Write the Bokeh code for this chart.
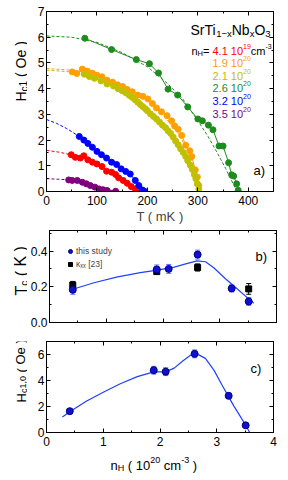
from bokeh.plotting import figure
from bokeh.models import (Range1d, LinearAxis, SingleIntervalTicker, Label, Whisker, TeeHead,
                          ColumnDataSource, PrintfTickFormatter, Legend, LegendItem)
from bokeh.layouts import column, row
from bokeh.embed import file_html
from bokeh.resources import INLINE

FONT = "Liberation Sans"

# ---------------- data: panel a, Hc1(T) ----------------
series_labels = ["4.1", "1.9", "2.1", "2.6", "3.2", "3.5"]
series_exp = ["19", "20", "20", "20", "20", "20"]
series_colors = ["#ff0000", "#ffa000", "#c0c000", "#1e8c1e", "#0000ff", "#800080"]

red_T = [49, 57, 67, 74, 82, 91, 100, 110, 119, 129, 137, 143, 152, 160, 168, 176, 183]
red_H = [1.43, 1.33, 1.30, 1.39, 1.23, 1.14, 1.07, 0.97, 0.79, 0.75, 0.66, 0.53, 0.43, 0.32, 0.19, 0.10, 0.07]
orange_T = [51, 60, 71, 81, 91, 100, 110, 120, 131, 141, 151, 160, 170, 181, 191, 201, 210, 218, 228,
            239, 248, 254, 261, 268, 276, 284, 288, 295, 299, 302]
orange_H = [4.65, 4.59, 4.76, 4.68, 4.60, 4.52, 4.46, 4.33, 4.25, 4.15, 4.08, 3.97, 3.88, 3.75, 3.70,
            3.60, 3.42, 3.25, 3.10, 2.95, 2.75, 2.55, 2.42, 2.18, 1.80, 1.58, 1.36, 0.84, 0.56, 0.23]
yellow_T = [75, 85, 95, 108, 120, 133, 142, 150, 157, 164, 170, 176, 181, 186, 191, 196, 200, 206, 212,
            218, 224, 230, 236, 241, 246, 251, 256, 261, 266, 271, 276, 280, 285, 289, 293, 296, 299, 302]
yellow_H = [4.56, 4.47, 4.40, 4.30, 4.18, 4.10, 4.00, 3.92, 3.84, 3.74, 3.66, 3.56, 3.47, 3.38, 3.30,
            3.22, 3.14, 3.02, 2.92, 2.82, 2.70, 2.58, 2.48, 2.36, 2.26, 2.12, 1.96, 1.82, 1.66, 1.52,
            1.36, 1.20, 1.02, 0.86, 0.66, 0.50, 0.30, 0.10]
green_T = [76, 129, 178, 204, 222, 241, 260, 280, 300, 309, 321, 330, 342, 350, 361, 367, 371, 377, 380]
green_H = [5.96, 5.52, 5.13, 4.97, 4.61, 3.98, 3.75, 3.29, 2.82, 2.75, 2.58, 2.40, 1.77, 1.77, 1.12,
           0.65, 0.60, 0.30, 0.05]
blue_T = [65, 74, 82, 91, 100, 109, 119, 129, 139, 148, 157, 166, 176, 183, 190, 195]
blue_H = [2.14, 2.00, 1.87, 1.72, 1.56, 1.43, 1.30, 1.14, 1.05, 0.88, 0.78, 0.68, 0.43, 0.23, 0.06, 0.0]
purple_T = [44, 51, 61, 71, 79, 87, 96, 104, 112, 120, 137]
purple_H = [0.45, 0.43, 0.43, 0.36, 0.30, 0.23, 0.17, 0.10, 0.07, 0.04, 0.01]

# dashed fit curves
red_fit_T = [0, 25, 50, 100, 140, 170, 185]
red_fit_H = [1.60, 1.53, 1.42, 1.05, 0.62, 0.25, 0.0]
orange_fit_T = [0, 50, 100, 150, 200, 230, 260, 280, 295, 303, 305]
orange_fit_H = [4.78, 4.72, 4.50, 4.10, 3.50, 3.00, 2.30, 1.60, 0.85, 0.20, 0.0]
yellow_fit_T = [0, 50, 100, 150, 200, 230, 260, 280, 295, 302]
yellow_fit_H = [4.72, 4.65, 4.40, 3.95, 3.25, 2.70, 2.00, 1.30, 0.60, 0.0]
green_fit_T = [0, 50, 100, 150, 200, 240, 270, 300, 320, 340, 355, 370, 378]
green_fit_H = [6.05, 6.00, 5.80, 5.40, 4.85, 4.20, 3.60, 2.75, 2.15, 1.45, 0.90, 0.30, 0.0]
blue_fit_T = [0, 20, 40, 65, 100, 140, 170, 195]
blue_fit_H = [2.80, 2.65, 2.45, 2.14, 1.58, 1.00, 0.55, 0.0]
purple_fit_T = [0, 40, 80, 110, 130, 140]
purple_fit_H = [0.50, 0.46, 0.32, 0.14, 0.04, 0.0]

# ---------------- data: panel b, Tc(nH) ----------------
nH_study = [0.41, 1.89, 2.10, 2.61, 3.21, 3.51]
Tc_study = [0.183, 0.297, 0.300, 0.380, 0.191, 0.118]
Tc_study_err = [0.025, 0.025, 0.025, 0.025, 0.020, 0.022]
nH_kxx = [0.41, 1.89, 2.61, 3.51]
Tc_kxx = [0.210, 0.285, 0.308, 0.188]
Tc_kxx_err = [0.020, 0.015, 0.020, 0.030]
Tc_fit_n = [0.41, 0.8, 1.2, 1.6, 1.9, 2.2, 2.4, 2.6, 2.75, 2.9, 3.1, 3.3, 3.5, 3.6]
Tc_fit = [0.186, 0.224, 0.255, 0.279, 0.293, 0.310, 0.328, 0.345, 0.340, 0.305, 0.245, 0.190, 0.135, 0.108]

# ---------------- data: panel c, Hc1,0(nH) ----------------
Hc10 = [1.64, 4.79, 4.68, 6.05, 2.82, 0.55]
Hc10_err = [0.10, 0.30, 0.30, 0.30, 0.20, 0.10]
Hc10_fit_n = [0.28, 0.41, 0.7, 1.0, 1.3, 1.6, 1.89, 2.1, 2.25, 2.4, 2.55, 2.65, 2.8, 2.95, 3.1, 3.2,
              3.3, 3.42, 3.51, 3.58]
Hc10_fit = [1.20, 1.60, 2.40, 3.10, 3.75, 4.30, 4.66, 4.66, 4.95, 5.50, 5.98, 6.05, 5.70, 4.80, 3.60,
            2.82, 2.05, 1.20, 0.56, 0.0]

# ---------------- helpers ----------------
WID = {'0': .556, '1': .556, '2': .556, '3': .556, '4': .556, '5': .556, '6': .556, '7': .556,
       '8': .556, '9': .556, '.': .278, ' ': .278, '(': .333, ')': .333, '=': .584, '-': .333,
       '\u2212': .584, 'S': .667, 'r': .333, 'T': .611, 'i': .222, 'N': .722, 'b': .556, 'O': .778,
       'x': .5, 'n': .556, 'H': .722, 'c': .5, 'm': .833, 'K': .667, 'e': .556, ',': .278}


def tw(s, size):
    return sum(WID.get(ch, 0.556) for ch in s) * size


def rich(p, pieces, x, y, angle=0.0):
    pos = 0.0
    for text, size, shift, col in pieces:
        lead = len(text) - len(text.lstrip(" "))
        pos += tw(" " * lead, size)
        core = text.strip(" ")
        if angle == 0:
            lx, ly = x + pos, y + shift
        else:
            lx, ly = x - shift, y + pos
        p.add_layout(Label(x=lx, y=ly, x_units="screen", y_units="screen", text=core,
                           text_font_size=f"{size}px", text_baseline="alphabetic", text_align="left",
                           angle=angle, text_color=col, text_font=FONT))
        pos += tw(text.lstrip(" "), size)


def hide_labels(ax):
    ax.major_label_text_color = None
    ax.major_label_text_font_size = "1px"
    ax.major_label_standoff = 0


def style(p, xt, yt, xlabels=True, yfmt=None):
    p.below[0].ticker = xt
    p.left[0].ticker = yt
    if yfmt:
        p.left[0].formatter = yfmt
    p.add_layout(LinearAxis(ticker=xt), "above")
    p.add_layout(LinearAxis(ticker=yt), "right")
    for ax in p.axis:
        ax.major_tick_in = 4
        ax.major_tick_out = 0
        ax.minor_tick_in = 2
        ax.minor_tick_out = 0
        ax.axis_line_color = "black"
        ax.major_tick_line_color = "black"
        ax.minor_tick_line_color = "black"
        ax.major_label_text_font = FONT
        ax.major_label_text_font_size = "12px"
        ax.major_label_text_color = "black"
        ax.major_label_standoff = 4
    p.left[0].major_label_standoff = 2
    hide_labels(p.above[0])
    hide_labels(p.right[0])
    if not xlabels:
        hide_labels(p.below[0])
    p.xgrid.visible = False
    p.ygrid.visible = False
    p.outline_line_color = "black"


SW = 27  # width of the y-label strips
FL = 46 - SW  # left border of the plots, so that each frame starts at x = 46


def fig(fh, top, bottom, x_end, y_end):
    p = figure(frame_width=227, frame_height=fh, min_border_left=FL, min_border_right=7,
               min_border_top=top, min_border_bottom=bottom, output_backend="svg",
               toolbar_location=None, x_range=Range1d(0, x_end), y_range=Range1d(0, y_end))
    p.background_fill_color = "white"
    p.border_fill_color = "white"
    return p


def strip(w, h):
    s = figure(width=w, height=h, min_border=0, output_backend="svg", toolbar_location=None,
               x_axis_location=None, y_axis_location=None,
               x_range=Range1d(0, w), y_range=Range1d(0, h))
    s.xgrid.visible = False
    s.ygrid.visible = False
    s.outline_line_color = None
    s.background_fill_color = "white"
    s.border_fill_color = "white"
    return s


# ---------------- panel a ----------------
HA = 11 + 180 + 36
pa = fig(180, 11, 36, 450, 7)
style(pa, SingleIntervalTicker(interval=100, num_minor_ticks=2),
      SingleIntervalTicker(interval=1, num_minor_ticks=2))
xa = pa.below[0]
xa.axis_label = "T ( mK )"
xa.axis_label_text_font = FONT
xa.axis_label_text_font_size = "13px"
xa.axis_label_text_font_style = "normal"
xa.axis_label_standoff = 1

pts = [(red_T, red_H), (orange_T, orange_H), (yellow_T, yellow_H), (green_T, green_H),
       (blue_T, blue_H), (purple_T, purple_H)]
fits = [(red_fit_T, red_fit_H), (orange_fit_T, orange_fit_H), (yellow_fit_T, yellow_fit_H),
        (green_fit_T, green_fit_H), (blue_fit_T, blue_fit_H), (purple_fit_T, purple_fit_H)]
for (ft, fhh), col in zip(fits, series_colors):
    pa.line(ft, fhh, line_color=col, line_width=1, line_dash="3 2")
for (t, h), col in zip(pts, series_colors):
    pa.line(t, h, line_color=col, line_width=1)
    pa.scatter(t, h, size=6, fill_color=col, line_color=col)

# frame a: left 46, bottom 191 (page px)
A_L, A_B = 46, 191
rich(pa, [("SrTi", 14, 0, "black"), ("1\u2212x", 9.5, -3.5, "black"), ("Nb", 14, 0, "black"),
          ("x", 9.5, -3.5, "black"), ("O", 14, 0, "black"), ("3", 9.5, -3.5, "black")],
     190 - A_L, A_B - 29.5)
rich(pa, [("n", 11, 0, "black"), ("H", 7.5, -2.5, "black"), ("=", 11, 0, "black")],
     191 - A_L, A_B - 50)
baselines = [50, 62.5, 75, 87.5, 100, 113]
for lab, ex, col, bl in zip(series_labels, series_exp, series_colors, baselines):
    pieces = [(lab + " 10", 11, 0, col), (ex, 7, 4.5, col)]
    if ex == "19":
        pieces += [("cm", 11, 0, "black"), ("-3", 7, 4.5, "black")]
    rich(pa, pieces, 212 - A_L, A_B - bl)
rich(pa, [("a)", 13, 0, "black")], 253 - A_L, A_B - 169.5)

ya = strip(SW, HA)
rich(ya, [("H", 14, 0, "black"), ("c1", 10, -3, "black"), (" ( Oe )", 14, 0, "black")],
     20.5, HA - 137, angle=1.5708)

# ---------------- panel b ----------------
HB = 3 + 92 + 8
pb = fig(92, 3, 8, 4, 0.515)
style(pb, SingleIntervalTicker(interval=1, num_minor_ticks=2),
      SingleIntervalTicker(interval=0.2, num_minor_ticks=2), xlabels=False,
      yfmt=PrintfTickFormatter(format="%.1f"))

src_b1 = ColumnDataSource(dict(x=nH_study, y=Tc_study,
                               lo=[v - e for v, e in zip(Tc_study, Tc_study_err)],
                               hi=[v + e for v, e in zip(Tc_study, Tc_study_err)]))
src_b2 = ColumnDataSource(dict(x=nH_kxx, y=Tc_kxx,
                               lo=[v - e for v, e in zip(Tc_kxx, Tc_kxx_err)],
                               hi=[v + e for v, e in zip(Tc_kxx, Tc_kxx_err)]))
pb.line(Tc_fit_n, Tc_fit, line_color="#2040ff", line_width=1.2)
pb.add_layout(Whisker(source=src_b2, base="x", lower="lo", upper="hi", line_color="black",
                      upper_head=TeeHead(size=5, line_color="black"),
                      lower_head=TeeHead(size=5, line_color="black")))
r_k = pb.scatter("x", "y", source=src_b2, marker="square", size=6, fill_color="black",
                 line_color="black")
pb.add_layout(Whisker(source=src_b1, base="x", lower="lo", upper="hi", line_color="#6070ff",
                      upper_head=TeeHead(size=5, line_color="#6070ff"),
                      lower_head=TeeHead(size=5, line_color="#6070ff")))
r_s = pb.scatter("x", "y", source=src_b1, size=7, fill_color="#1010d0", line_color="#000080")

leg = Legend(items=[LegendItem(label="this study", renderers=[r_s]),
                    LegendItem(label="\u03ba\u2093\u2093 [23]", renderers=[r_k])],
             location=(16, 52), label_text_font=FONT, label_text_font_size="8.5px",
             glyph_width=10, glyph_height=12, label_height=12, label_standoff=1, spacing=1,
             padding=0, margin=0, border_line_color=None, background_fill_alpha=0)
pb.add_layout(leg)

B_L, B_B = 46, 322
rich(pb, [("b)", 13, 0, "black")], 252 - B_L, B_B - 256)

yb = strip(SW, HB)
rich(yb, [("T", 16, 0, "black"), ("c", 10, -3, "black"), (" ( K )", 16, 0, "black")],
     20.5, 330 - 303, angle=1.5708)

# ---------------- panel c ----------------
HC = 11 + 91 + 20
pc = fig(91, 11, 20, 4, 7)
style(pc, SingleIntervalTicker(interval=1, num_minor_ticks=2),
      SingleIntervalTicker(interval=2, num_minor_ticks=2))
src_c = ColumnDataSource(dict(x=nH_study, y=Hc10,
                              lo=[v - e for v, e in zip(Hc10, Hc10_err)],
                              hi=[v + e for v, e in zip(Hc10, Hc10_err)]))
pc.line(Hc10_fit_n, Hc10_fit, line_color="#2040ff", line_width=1.2)
pc.add_layout(Whisker(source=src_c, base="x", lower="lo", upper="hi", line_color="#6070ff",
                      upper_head=TeeHead(size=5, line_color="#6070ff"),
                      lower_head=TeeHead(size=5, line_color="#6070ff")))
pc.scatter("x", "y", source=src_c, size=7, fill_color="#1010d0", line_color="#000080")

C_L, C_B = 46, 432
rich(pc, [("c)", 13, 0, "black")], 250 - C_L, C_B - 367.5)

yc = strip(SW, HC)
rich(yc, [("H", 13, 0, "black"), ("c1,0", 9, -2.5, "black"), (" ( Oe )", 13, 0, "black")],
     20.5, 452 - 422, angle=1.5708)

XH = 22
xc = strip(280, XH)
rich(xc, [("n", 13, 0, "black"), ("H", 9, -3, "black"), (" ( 10", 13, 0, "black"),
          ("20", 9, 5, "black"), (" cm", 13, 0, "black"), ("-3", 9, 5, "black"),
          (" )", 13, 0, "black")],
     110, XH - (464.5 - 452))

layout = column(row(ya, pa), row(yb, pb), row(yc, pc), xc)
open("out.html", "w").write(file_html(layout, INLINE))
